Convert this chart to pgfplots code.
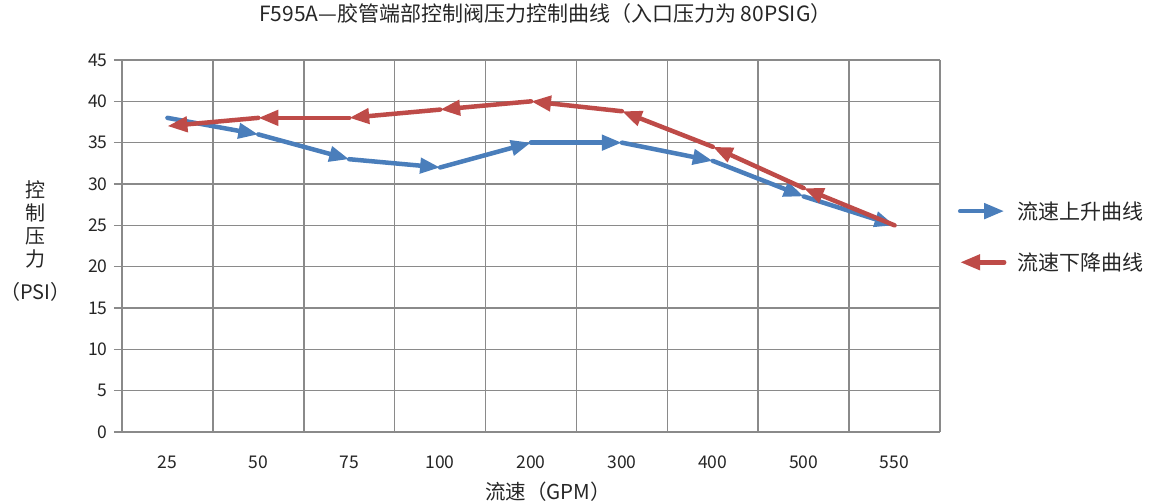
\documentclass[border=0pt]{standalone}
\usepackage{fontspec}
\setmainfont{Noto Sans CJK SC}
\usepackage{pgfplots}
\pgfplotsset{compat=1.18}
\usetikzlibrary{arrows.meta}

\definecolor{upblue}{HTML}{4A7EBB}
\definecolor{downred}{HTML}{BE4B48}
\definecolor{gridgray}{HTML}{8A8A8A}

% segments: start point and step to the next point (category index, PSI)
\pgfplotstableread{
x y u v
0 38 1 -2
1 36 1 -3
2 33 1 -1
3 32 1 3
4 35 1 0
5 35 1 -2.2
6 32.8 1 -4.3
7 28.5 1 -3.5
}\upcurve
\pgfplotstableread{
x y u v
8 25 -1 4.5
7 29.5 -1 5
6 34.5 -1 4.3
5 38.8 -1 1.2
4 40 -1 -1
3 39 -1 -1
2 38 -1 0
1 38 -1 -1
}\downcurve

\begin{document}
\begin{tikzpicture}
\begin{axis}[
  name=ax,
  scale only axis,
  width=818pt, height=372pt,
  xmin=-0.5, xmax=8.5,
  ymin=0, ymax=45,
  xtick={0,...,8},
  xticklabels={25,50,75,100,200,300,400,500,550},
  minor xtick={-0.5,0.5,...,8.5},
  ytick={0,5,...,45},
  xminorgrids=true, ymajorgrids=true,
  grid style={draw=gridgray, line width=1.6pt},
  minor grid style={draw=gridgray, line width=1.6pt},
  axis x line*=bottom, axis y line*=left,
  axis line style={draw=gridgray, line width=1.6pt, -},
  x tick style={draw=none},
  y tick style={draw=gridgray, line width=1.6pt},
  tick align=outside,
  major tick length=8pt,
  ticklabel style={font=\fontsize{17.5}{20}\selectfont, text=black!85},
  xticklabel style={yshift=-12pt},
  yticklabel style={xshift=-3pt},
  /pgf/number format/assume math mode=true,
  title={F595A—胶管端部控制阀压力控制曲线（入口压力为 80PSIG）},
  title style={at={(rel axis cs:0.5175,1.1075)}, anchor=center,
    font=\fontsize{21}{24}\selectfont, text=black!85},
  xlabel={流速（GPM）},
  xlabel style={at={(rel axis cs:0.521,-0.161)}, anchor=center,
    font=\fontsize{20.5}{24}\selectfont, text=black!85},
  ylabel={控\\制\\压\\力\\[10pt]（PSI）},
  ylabel style={at={(rel axis cs:-0.106,0.513)}, anchor=center, rotate=-90,
    align=center, font=\fontsize{20}{23}\selectfont, text=black!85},
  legend style={at={(rel axis cs:1.018,0.525)}, anchor=west, draw=none,
    fill=none, font=\fontsize{21}{24}\selectfont, text=black!85,
    row sep=28pt, nodes={inner xsep=11pt}},
  legend cell align=left,
]
\addplot[upblue, line width=4.5pt, line cap=round,
  -{Triangle[length=20pt,width=15pt]},
  quiver={u=\thisrow{u}, v=\thisrow{v}},
  legend image code/.code={
    \draw[upblue, line width=4.5pt, -{Triangle[length=20pt,width=15pt]}]
      (0pt,0pt) -- (44pt,0pt);}]
  table[x=x, y=y] {\upcurve};
\addlegendentry{流速上升曲线}
\addplot[downred, line width=4.5pt, line cap=round,
  -{Triangle[length=20pt,width=15pt]},
  quiver={u=\thisrow{u}, v=\thisrow{v}},
  legend image code/.code={
    \draw[downred, line width=4.5pt, -{Triangle[length=20pt,width=15pt]}]
      (44pt,0pt) -- (0pt,0pt);}]
  table[x=x, y=y] {\downcurve};
\addlegendentry{流速下降曲线}
\end{axis}
\pgfresetboundingbox
\path[use as bounding box] ([shift={(-122pt,-71pt)}]ax.south west)
  rectangle ([shift={(211pt,60pt)}]ax.north east);
\end{tikzpicture}
\end{document}
